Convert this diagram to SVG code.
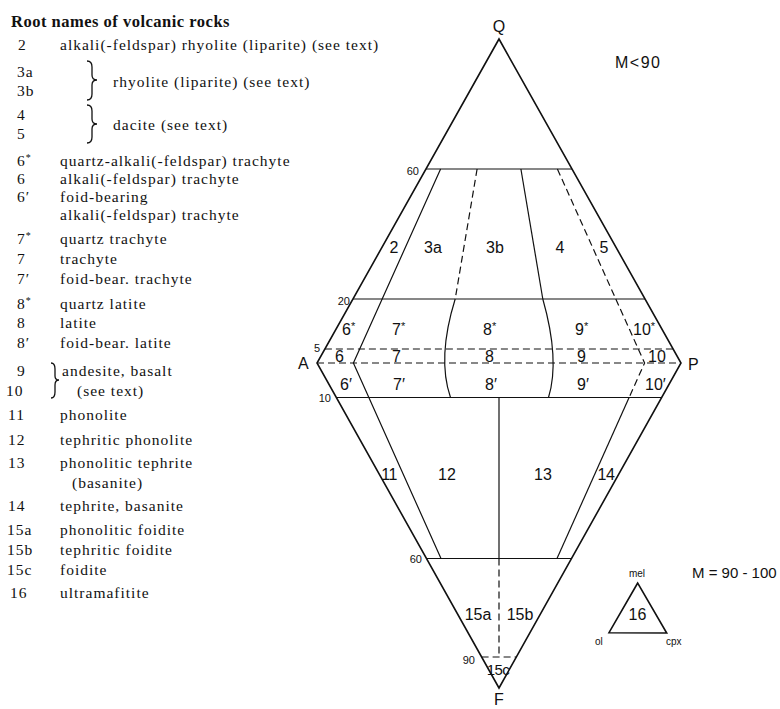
<svg xmlns="http://www.w3.org/2000/svg" width="780" height="709" viewBox="0 0 780 709">
<style>
.ser{font-family:"Liberation Serif","Times New Roman",serif;font-size:15.5px;letter-spacing:1px;fill:#111}
.ttl{font-family:"Liberation Serif","Times New Roman",serif;font-size:16.5px;letter-spacing:0.5px;font-weight:bold;fill:#111}
.sans{font-family:"Liberation Sans",Arial,sans-serif;fill:#111}
.lab{font-size:16px}
.sm{font-size:11px}
.vx{font-size:16px}
.ln{fill:none;stroke:#111;stroke-width:1.2}
.out{fill:none;stroke:#111;stroke-width:1.6;stroke-linejoin:miter}
.dash{fill:none;stroke:#111;stroke-width:1.2;stroke-dasharray:7 4}
.br{fill:none;stroke:#111;stroke-width:1.3}
</style>
<rect width="780" height="709" fill="#fff"/>

<g id="legend">
<text class="ttl" x="11" y="27">Root names of volcanic rocks</text>
<g class="ser">
<text x="18" y="50">2</text><text x="60" y="50">alkali(-feldspar) rhyolite (liparite) (see text)</text>
<text x="17" y="77">3a</text><text x="17" y="96">3b</text><text x="113" y="87">rhyolite (liparite) (see text)</text>
<text x="17" y="120">4</text><text x="17" y="139">5</text><text x="113" y="130">dacite (see text)</text>
<text x="17" y="166">6<tspan font-size="10" dy="-5">*</tspan></text><text x="60" y="166">quartz-alkali(-feldspar) trachyte</text>
<text x="17" y="184">6</text><text x="60" y="184">alkali(-feldspar) trachyte</text>
<text x="17" y="202">6′</text><text x="60" y="202">foid-bearing</text>
<text x="60" y="220">alkali(-feldspar) trachyte</text>
<text x="17" y="244">7<tspan font-size="10" dy="-5">*</tspan></text><text x="60" y="244">quartz trachyte</text>
<text x="17" y="264">7</text><text x="60" y="264">trachyte</text>
<text x="17" y="284">7′</text><text x="60" y="284">foid-bear. trachyte</text>
<text x="17" y="309">8<tspan font-size="10" dy="-5">*</tspan></text><text x="60" y="309">quartz latite</text>
<text x="17" y="328">8</text><text x="60" y="328">latite</text>
<text x="17" y="348">8′</text><text x="60" y="348">foid-bear. latite</text>
<text x="17" y="376">9</text><text x="6" y="396">10</text>
<text x="62" y="376">andesite, basalt</text><text x="77" y="396">(see text)</text>
<text x="8" y="420">11</text><text x="60" y="420">phonolite</text>
<text x="8" y="445">12</text><text x="60" y="445">tephritic phonolite</text>
<text x="8" y="468">13</text><text x="60" y="468">phonolitic tephrite</text>
<text x="72" y="488">(basanite)</text>
<text x="8" y="511">14</text><text x="60" y="511">tephrite, basanite</text>
<text x="7" y="535">15a</text><text x="60" y="535">phonolitic foidite</text>
<text x="7" y="555">15b</text><text x="60" y="555">tephritic foidite</text>
<text x="7" y="575">15c</text><text x="60" y="575">foidite</text>
<text x="10" y="598">16</text><text x="60" y="598">ultramafitite</text>
</g>
<path class="br" d="M87,61 Q92,61 92,67 L92,75 Q92,80 97,80 Q92,80 92,85 L92,94 Q92,100 87,100"/>
<path class="br" d="M87,105 Q92,105 92,111 L92,119 Q92,124 97,124 Q92,124 92,129 L92,137 Q92,143 87,143"/>
<path class="br" d="M51,363 Q55,363 55,369 L55,376 Q55,380 59,380 Q55,380 55,385 L55,392 Q55,398 51,398"/>
</g>

<g id="connectors">
<polygon id="outline" class="out" points="499,39 681,363 499,688 317,363"/>
<line class="ln" x1="426" y1="169" x2="572" y2="169"/>
<line class="ln" x1="353" y1="299" x2="645" y2="299"/>
<line class="dash" x1="324.9" y1="349" x2="673.1" y2="349"/>
<line class="dash" x1="317" y1="363" x2="681" y2="363"/>
<line class="ln" x1="336.3" y1="397.5" x2="661.7" y2="397.5"/>
<line class="ln" x1="426.5" y1="558.5" x2="571.5" y2="558.5"/>
<line class="dash" x1="481.6" y1="657" x2="516.4" y2="657"/>
<polyline class="ln" points="440.6,169 353.4,363 441,558.5"/>
<line class="dash" x1="477.1" y1="169" x2="455.2" y2="299"/>
<line class="ln" x1="520.9" y1="169" x2="542.8" y2="299"/>
<line class="dash" x1="557.4" y1="169" x2="615.8" y2="299"/>
<polyline class="dash" points="615.8,299 644.6,363 629.1,397.5"/>
<line class="ln" x1="629.1" y1="397.5" x2="557" y2="558.5"/>
<path class="ln" d="M455.2,299 C444,335 441,370 450.5,397.5"/>
<path class="ln" d="M542.8,299 C553,335 557,370 548.5,397.5"/>
<line class="ln" x1="499" y1="397.5" x2="499" y2="558.5"/>
<line class="dash" x1="499" y1="558.5" x2="499" y2="657"/>
</g>

<g id="vertices" class="sans vx">
<text x="499" y="32" text-anchor="middle">Q</text>
<text x="298" y="369">A</text>
<text x="688" y="370">P</text>
<text x="499" y="705" text-anchor="middle">F</text>
</g>

<g id="scale" class="sans sm">
<text x="419" y="175" text-anchor="end">60</text>
<text x="350" y="305" text-anchor="end">20</text>
<text x="314" y="352">5</text>
<text x="331" y="402" text-anchor="end">10</text>
<text x="422" y="563" text-anchor="end">60</text>
<text x="475" y="664" text-anchor="end">90</text>
</g>

<g id="fields" class="sans lab">
<text x="394" y="253" text-anchor="middle">2</text>
<text x="433" y="253" text-anchor="middle">3a</text>
<text x="495" y="253" text-anchor="middle">3b</text>
<text x="560" y="253" text-anchor="middle">4</text>
<text x="604" y="253" text-anchor="middle">5</text>
<text x="342" y="335">6<tspan font-size="11" dy="-5">*</tspan></text>
<text x="392" y="335">7<tspan font-size="11" dy="-5">*</tspan></text>
<text x="483" y="335">8<tspan font-size="11" dy="-5">*</tspan></text>
<text x="575" y="335">9<tspan font-size="11" dy="-5">*</tspan></text>
<text x="633" y="335">10<tspan font-size="11" dy="-5">*</tspan></text>
<text x="335" y="362">6</text>
<text x="392" y="362">7</text>
<text x="485" y="362">8</text>
<text x="577" y="362">9</text>
<text x="648" y="362">10</text>
<text x="340" y="390">6′</text>
<text x="393" y="390">7′</text>
<text x="485" y="390">8′</text>
<text x="577" y="390">9′</text>
<text x="645" y="390">10′</text>
<text x="389" y="480" text-anchor="middle" letter-spacing="-0.5">11</text>
<text x="447" y="480" text-anchor="middle">12</text>
<text x="543" y="480" text-anchor="middle">13</text>
<text x="606" y="480" text-anchor="middle" letter-spacing="-0.5">14</text>
<text x="478" y="620" text-anchor="middle">15a</text>
<text x="520" y="620" text-anchor="middle">15b</text>
<text x="498" y="675" text-anchor="middle" font-size="15" letter-spacing="-0.5">15c</text>
</g>

<g id="mlabels" class="sans">
<text x="615" y="68" font-size="16" letter-spacing="1.5">M&lt;90</text>
<text x="692" y="578" font-size="15">M = 90 - 100</text>
</g>

<g id="inset">
<polygon class="out" points="637.7,583 609,632.7 666.7,633"/>
<text class="sans" x="637" y="577" font-size="10" text-anchor="middle">mel</text>
<text class="sans lab" x="637.5" y="620" text-anchor="middle">16</text>
<text class="sans" x="595" y="645" font-size="10">ol</text>
<text class="sans" x="666" y="645" font-size="10">cpx</text>
</g>
</svg>
